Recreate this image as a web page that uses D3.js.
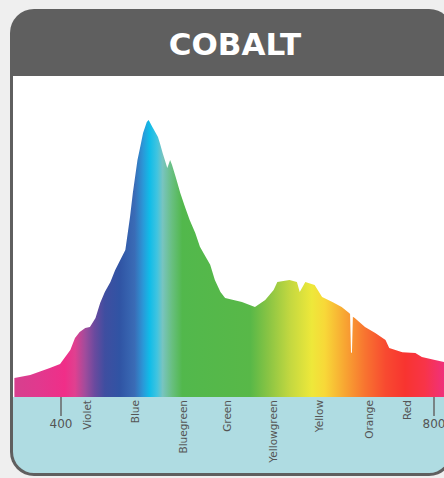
<!DOCTYPE html>
<html>
<head>
<meta charset="utf-8">
<script src="https://cdn.jsdelivr.net/npm/d3@7"></script>
<style>
  html, body { margin: 0; padding: 0; background: #efefef; }
  svg { display: block; }
</style>
</head>
<body>
<div id="chart"></div>
<script>
// spectrum of the lamp (nm, relative intensity 0-100)
const wavelengths = [350, 367, 388, 399, 410, 415, 420, 426, 431, 437, 442, 447, 453, 458, 463, 469,
  474, 477, 482, 485, 488, 492, 494, 498, 501, 504, 506, 509, 514, 517, 519, 523, 528, 533, 538, 544,
  549, 554, 560, 565, 571, 576, 594, 608, 619, 628, 632, 645, 653, 656, 662, 672, 680, 691, 701, 709,
  710, 711, 712, 713, 715, 726, 737, 748, 752, 766, 780, 787, 801, 811];
const intensity = [6.9, 7.9, 10.5, 11.9, 17.0, 21.3, 23.5, 24.9, 25.3, 28.5, 33.9, 37.9, 41.5, 45.8, 49.1, 53.1,
  65.0, 73.6, 85.6, 90.3, 95.3, 99.3, 100, 97.5, 95.7, 93.9, 91.7, 88.1, 82.7, 85.6, 83.8, 79.4, 73.6, 68.6, 63.9, 59.2,
  54.2, 51.3, 47.7, 42.2, 37.9, 35.7, 34.3, 32.5, 35.0, 38.6, 41.5, 42.2, 41.5, 37.9, 41.5, 40.4, 36.1, 34.3, 32.5, 30.3,
  30.0, 16.0, 16.0, 29.0, 28.5, 25.3, 23.1, 20.6, 17.7, 16.2, 15.9, 14.4, 13.4, 12.6];

const colourNames = ["Violet", "Blue", "Bluegreen", "Green", "Yellowgreen", "Yellow", "Orange", "Red"];
const colourAt = [428, 479, 531, 578, 627, 677, 730, 771];
const tickValues = [400, 800];
const title = "COBALT";

// rainbow used for the fill, by wavelength
const stopNm = [350, 377, 404, 415, 426, 436, 447, 463, 479, 488, 495, 503, 509, 519, 530, 603,
  622, 646, 669, 683, 705, 726, 748, 769, 790, 811];
const stopColour = ["#d6408e", "#e2388e", "#f02e88", "#e04090", "#a04c9c", "#6a4a9e", "#3f4ea0", "#3054a4",
  "#3a6cb6", "#2a98d8", "#10bce8", "#40c4e0", "#78c4c0", "#68bf80", "#52b84c", "#58b848",
  "#88c444", "#c4d840", "#eee83a", "#f8d838", "#f8a432", "#f87430", "#f84a30", "#f83430", "#f83448", "#f0307c"];

const W = 444, H = 478;
const card = { x: 10, y: 9, w: 443, h: 467, r: 24, b: 3 };
const headerBottom = 76, plotBottom = 397;

const svg = d3.select("#chart").append("svg")
  .attr("width", W)
  .attr("height", H);

const x = d3.scaleLinear().domain([400, 800]).range([61, 434]);
const y = d3.scaleLinear().domain([0, 100]).range([plotBottom, 120]);

const defs = svg.append("defs");
defs.append("clipPath").attr("id", "inner")
  .append("rect")
    .attr("x", card.x + card.b).attr("y", card.y + card.b)
    .attr("width", card.w - 2 * card.b).attr("height", card.h - 2 * card.b)
    .attr("rx", card.r - card.b);

const grad = defs.append("linearGradient")
  .attr("id", "rainbow")
  .attr("gradientUnits", "userSpaceOnUse")
  .attr("x1", x(stopNm[0])).attr("x2", x(stopNm[stopNm.length - 1]))
  .attr("y1", 0).attr("y2", 0);
const span = stopNm[stopNm.length - 1] - stopNm[0];
stopNm.forEach((nm, i) => {
  grad.append("stop")
    .attr("offset", (nm - stopNm[0]) / span)
    .attr("stop-color", stopColour[i]);
});

// card with dark header and border
svg.append("rect")
  .attr("x", card.x).attr("y", card.y)
  .attr("width", card.w).attr("height", card.h)
  .attr("rx", card.r)
  .attr("fill", "#5f5f5f");

const body = svg.append("g").attr("clip-path", "url(#inner)");

body.append("rect")
  .attr("x", card.x).attr("y", headerBottom)
  .attr("width", card.w).attr("height", plotBottom - headerBottom)
  .attr("fill", "#ffffff");

body.append("rect")
  .attr("x", card.x).attr("y", plotBottom)
  .attr("width", card.w).attr("height", card.y + card.h - plotBottom)
  .attr("fill", "#afdce2");

const pts = wavelengths.map((w, i) => [w, intensity[i]]);
const area = d3.area()
  .x(d => x(d[0]))
  .y0(y(0))
  .y1(d => y(d[1]));

body.append("path")
  .datum(pts)
  .attr("d", area)
  .attr("fill", "url(#rainbow)");

// title
svg.append("text")
  .attr("x", 235).attr("y", 55)
  .attr("text-anchor", "middle")
  .style("font", "bold 31px 'DejaVu Sans'")
  .attr("fill", "#ffffff")
  .text(title);

// wavelength ticks
const ticks = body.selectAll(".tick").data(tickValues).enter().append("g")
  .attr("transform", d => `translate(${x(d)},0)`);
ticks.append("line")
  .attr("y1", plotBottom).attr("y2", plotBottom + 19)
  .attr("stroke", "#666").attr("stroke-width", 1.5);
ticks.append("text")
  .attr("y", 428)
  .attr("text-anchor", "middle")
  .style("font", "12px 'DejaVu Sans'")
  .attr("fill", "#555")
  .text(d => d);

// colour names, rotated
body.selectAll(".cname").data(colourNames).enter().append("text")
  .attr("transform", (d, i) => `translate(${x(colourAt[i]) + 4},${plotBottom + 3}) rotate(-90)`)
  .attr("text-anchor", "end")
  .style("font", "10.5px 'DejaVu Sans'")
  .attr("fill", "#555")
  .text(d => d);
</script>
</body>
</html>
